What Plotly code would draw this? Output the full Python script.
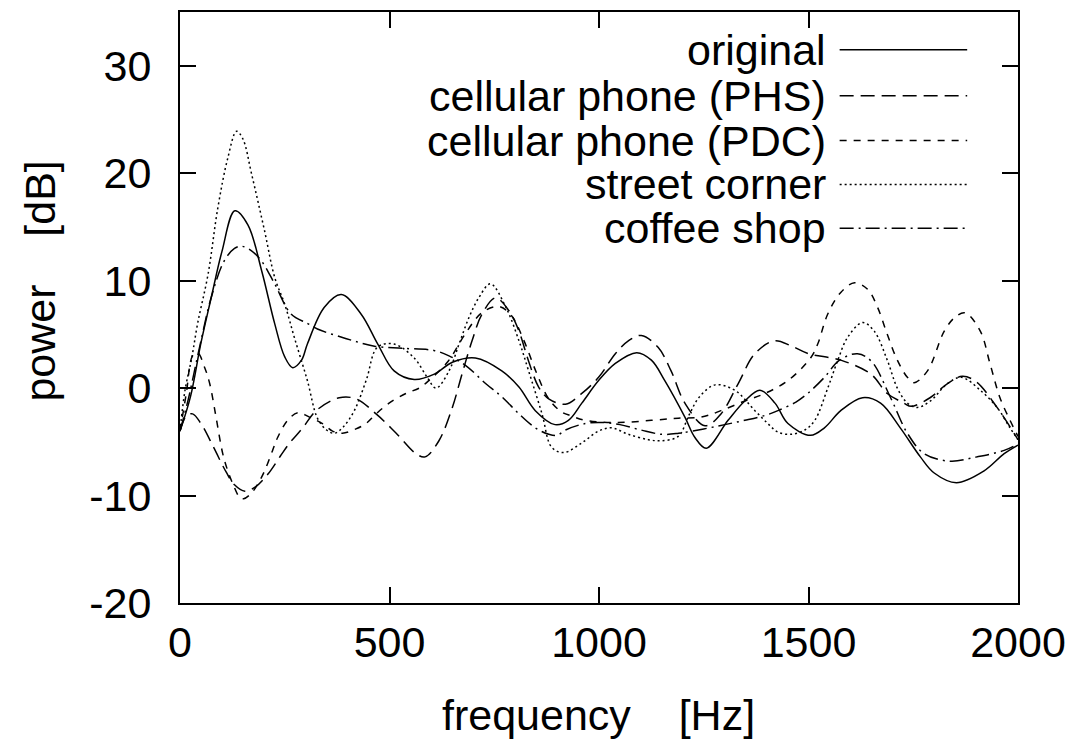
import plotly.graph_objects as go

# ---------------- data ----------------
orig_f = [0, 25, 50, 75, 100, 131, 162, 195, 226, 250, 269, 290, 304, 344, 385, 432, 472, 511, 559, 607,
          650, 705, 768, 809, 848, 895, 927, 959, 999, 1039, 1090, 1125, 1157, 1205, 1229, 1256, 1308,
          1348, 1384, 1420, 1451, 1505, 1538, 1577, 1629, 1672, 1719, 1767, 1800, 1853, 1919, 1967, 2000]
orig_v = [-4.0, -0.8, 4.2, 8.5, 12.7, 16.5, 15.2, 10.9, 6.0, 2.9, 1.9, 2.6, 4.1, 7.5, 8.7, 6.9, 4.1, 1.6, 0.8, 1.3,
          2.4, 2.8, 1.6, 0.1, -2.1, -3.4, -3.0, -1.4, 0.7, 2.3, 3.3, 2.6, 0.7, -2.7, -4.6, -5.6, -3.0,
          -1.2, -0.2, -1.4, -3.3, -4.4, -3.7, -2.1, -0.9, -1.4, -3.7, -6.4, -7.9, -8.8, -7.7, -6.1, -5.3]

phs_f = [0, 15, 30, 50, 80, 110, 130, 155, 180, 210, 240, 262, 293, 325, 380, 420, 468, 516, 563, 585,
         618, 650, 673, 697, 721, 753, 785, 809, 832, 856, 880, 920, 959, 999, 1039, 1070, 1101, 1141,
         1172, 1205, 1253, 1291, 1332, 1372, 1419, 1460, 1500, 1577, 1649, 1688, 1728, 1745, 1790,
         1831, 1867, 1900, 1950, 2000]
phs_v = [-4.0, -2.6, -2.4, -3.3, -5.5, -7.8, -9.0, -9.6, -9.2, -8.0, -6.3, -5.1, -3.7, -2.1, -0.9, -1.0,
         -2.4, -4.2, -6.1, -6.4, -4.9, -1.8, 1.3, 4.4, 6.9, 8.4, 7.2, 5.3, 2.5, 0.1, -1.0, -1.5, -0.5,
         1.0, 3.2, 4.4, 4.9, 3.8, 1.6, -1.4, -3.5, -2.4, 0.4, 3.2, 4.4, 3.9, 3.2, 2.6, 1.3, -0.5, -1.4,
         -1.7, -0.9, 0.4, 1.1, 0.6, -1.8, -4.8]

pdc_f = [0, 15, 30, 42, 59, 71, 86, 102, 114, 126, 143, 152, 170, 186, 202, 221, 233, 257, 281, 309,
         340, 364, 388, 420, 444, 468, 499, 539, 571, 594, 640, 680, 720, 760, 790, 820, 850, 880, 910,
         935, 967, 1046, 1125, 1189, 1244, 1291, 1348, 1396, 1451, 1505, 1522, 1546, 1577, 1610, 1641,
         1665, 1688, 1712, 1736, 1752, 1784, 1824, 1850, 1874, 1910, 1933, 1957, 1981, 2000]
pdc_v = [-4.0, -0.5, 3.0, 3.3, 1.9, 0.4, -2.7, -6.1, -7.7, -8.9, -10.2, -10.3, -9.8, -8.9, -7.7, -5.8,
         -4.6, -3.0, -2.3, -2.7, -3.3, -4.0, -4.2, -3.8, -3.3, -2.4, -1.4, -0.5, 0.0, 0.7, 2.5, 5.0, 7.0,
         7.6, 6.8, 4.5, 1.5, -1.0, -2.2, -2.6, -3.0, -3.2, -3.0, -2.8, -2.7, -2.1, -1.2, -0.5, 0.7, 2.8,
         4.1, 6.9, 8.9, 9.8, 9.2, 7.5, 5.0, 2.6, 1.0, 0.5, 1.6, 5.3, 6.6, 7.0, 5.3, 2.3, -0.9, -3.0, -4.5]

street_f = [0, 12, 28, 42, 67, 90, 114, 135, 150, 171, 202, 226, 250, 273, 304, 328, 350, 369, 390, 416,
            445, 471, 511, 559, 590, 611, 642, 666, 690, 713, 741, 778, 809, 832, 864, 887, 916, 959, 999,
            1030, 1070, 1118, 1149, 1189, 1215, 1240, 1277, 1324, 1372, 1403, 1427, 1458, 1491, 1515,
            1546, 1570, 1593, 1629, 1657, 1688, 1712, 1736, 1760, 1791, 1831, 1865, 1910, 1950, 1981, 2000]
street_v = [-4.0, -0.2, 2.8, 6.0, 10.6, 16.7, 21.4, 23.9, 23.2, 19.9, 14.6, 10.3, 7.8, 4.7, 0.7, -2.8,
            -3.9, -4.2, -3.6, -2.1, 0.8, 3.8, 4.1, 2.8, 1.0, 0.0, 1.6, 4.1, 6.6, 8.4, 9.7, 7.5, 4.4, 1.6,
            -2.4, -5.5, -6.0, -5.1, -4.0, -3.7, -4.3, -4.8, -4.9, -4.5, -2.5, -0.8, 0.3, -0.2, -2.1, -3.3,
            -4.1, -4.3, -3.9, -3.0, 0.0, 2.6, 4.7, 6.1, 5.3, 2.6, 0.0, -1.4, -1.8, -1.2, 0.4, 1.0, -0.2,
            -1.8, -3.7, -4.8]

coffee_f = [0, 20, 45, 75, 105, 130, 147, 170, 195, 226, 265, 305, 328, 397, 464, 530, 606, 642, 682,
            730, 768, 809, 848, 880, 900, 920, 967, 1006, 1050, 1100, 1150, 1190, 1250, 1300, 1348, 1400,
            1427, 1470, 1498, 1538, 1574, 1617, 1650, 1696, 1736, 1776, 1838, 1902, 1967, 2000]
coffee_v = [-4.0, -1.0, 3.5, 8.5, 11.8, 13.0, 13.2, 12.8, 11.8, 9.7, 6.9, 6.0, 5.5, 4.6, 3.9, 3.7, 3.5,
            3.0, 2.1, 0.4, -0.8, -2.4, -3.7, -4.3, -4.4, -3.9, -3.3, -3.2, -3.4, -3.9, -4.3, -4.2, -3.8,
            -3.4, -3.0, -2.5, -2.1, -1.3, -0.5, 1.0, 2.6, 3.2, 2.5, -0.9, -4.2, -6.1, -6.8, -6.4, -5.8, -5.2]

series_names = ["original", "cellular phone (PHS)", "cellular phone (PDC)", "street corner", "coffee shop"]
series_f = [orig_f, phs_f, pdc_f, street_f, coffee_f]
series_v = [orig_v, phs_v, pdc_v, street_v, coffee_v]
dashes = ["solid", "14px,7px", "7px,7px", "2px,3px", "14px,5px,2px,5px"]

x_ticks = [0, 500, 1000, 1500, 2000]
y_ticks = [-20, -10, 0, 10, 20, 30]

FONT = "Liberation Sans, Arial, Helvetica, sans-serif"
FS = 43

# ---------------- figure ----------------
fig = go.Figure()
for name, fx, vy, d in zip(series_names, series_f, series_v, dashes):
    fig.add_trace(go.Scatter(
        x=fx, y=vy, mode="lines", name=name, showlegend=False,
        line=dict(color="black", width=1.5, dash=d, shape="spline", smoothing=1.0),
        hoverinfo="skip"))

# plot-area geometry in pixels (for legend placement)
L, R, T, B = 180, 55, 10, 139
W, H = 1076, 742
pw, ph = W - L - R, H - T - B

def px_x(px):
    return (px - L) / pw

def px_y(py):
    return (H - B - py) / ph

row_y = [48, 94, 139, 183, 227]
for name, d, ry in zip(series_names, dashes, row_y):
    fig.add_shape(type="line", xref="paper", yref="paper",
                  x0=px_x(842), x1=px_x(970), y0=px_y(ry), y1=px_y(ry),
                  line=dict(color="black", width=1.5, dash=d))
    fig.add_annotation(xref="paper", yref="paper", x=px_x(830), y=px_y(ry),
                       text=name, showarrow=False, xanchor="right", yanchor="middle",
                       font=dict(family=FONT, size=FS, color="black"))

# axis titles
fig.add_annotation(xref="paper", yref="paper", x=px_x(600), y=px_y(715),
                   text="frequency\u00a0\u00a0\u00a0\u00a0[Hz]", showarrow=False,
                   xanchor="center", yanchor="middle",
                   font=dict(family=FONT, size=FS, color="black"))
fig.add_annotation(xref="paper", yref="paper", x=px_x(40), y=px_y(280),
                   text="power\u00a0\u00a0\u00a0\u00a0[dB]", showarrow=False, textangle=-90,
                   xanchor="center", yanchor="middle",
                   font=dict(family=FONT, size=FS, color="black"))

axis_common = dict(showline=True, linecolor="black", linewidth=2, mirror="allticks",
                   ticks="inside", ticklen=16, tickwidth=2, tickcolor="black",
                   showgrid=False, zeroline=False,
                   tickfont=dict(family=FONT, size=FS, color="black"))

fig.update_xaxes(range=[0, 2000], tickvals=x_ticks, ticktext=[str(v) for v in x_ticks],
                 ticklabelstandoff=0, **axis_common)
fig.update_yaxes(range=[-20, 35], tickvals=y_ticks, ticktext=[str(v) for v in y_ticks],
                 ticklabelstandoff=18, **axis_common)

fig.update_layout(width=W, height=H, margin=dict(l=L, r=R, t=T, b=B, pad=0),
                  plot_bgcolor="white", paper_bgcolor="white",
                  font=dict(family=FONT, size=FS, color="black"))

fig.write_html("out.html")
